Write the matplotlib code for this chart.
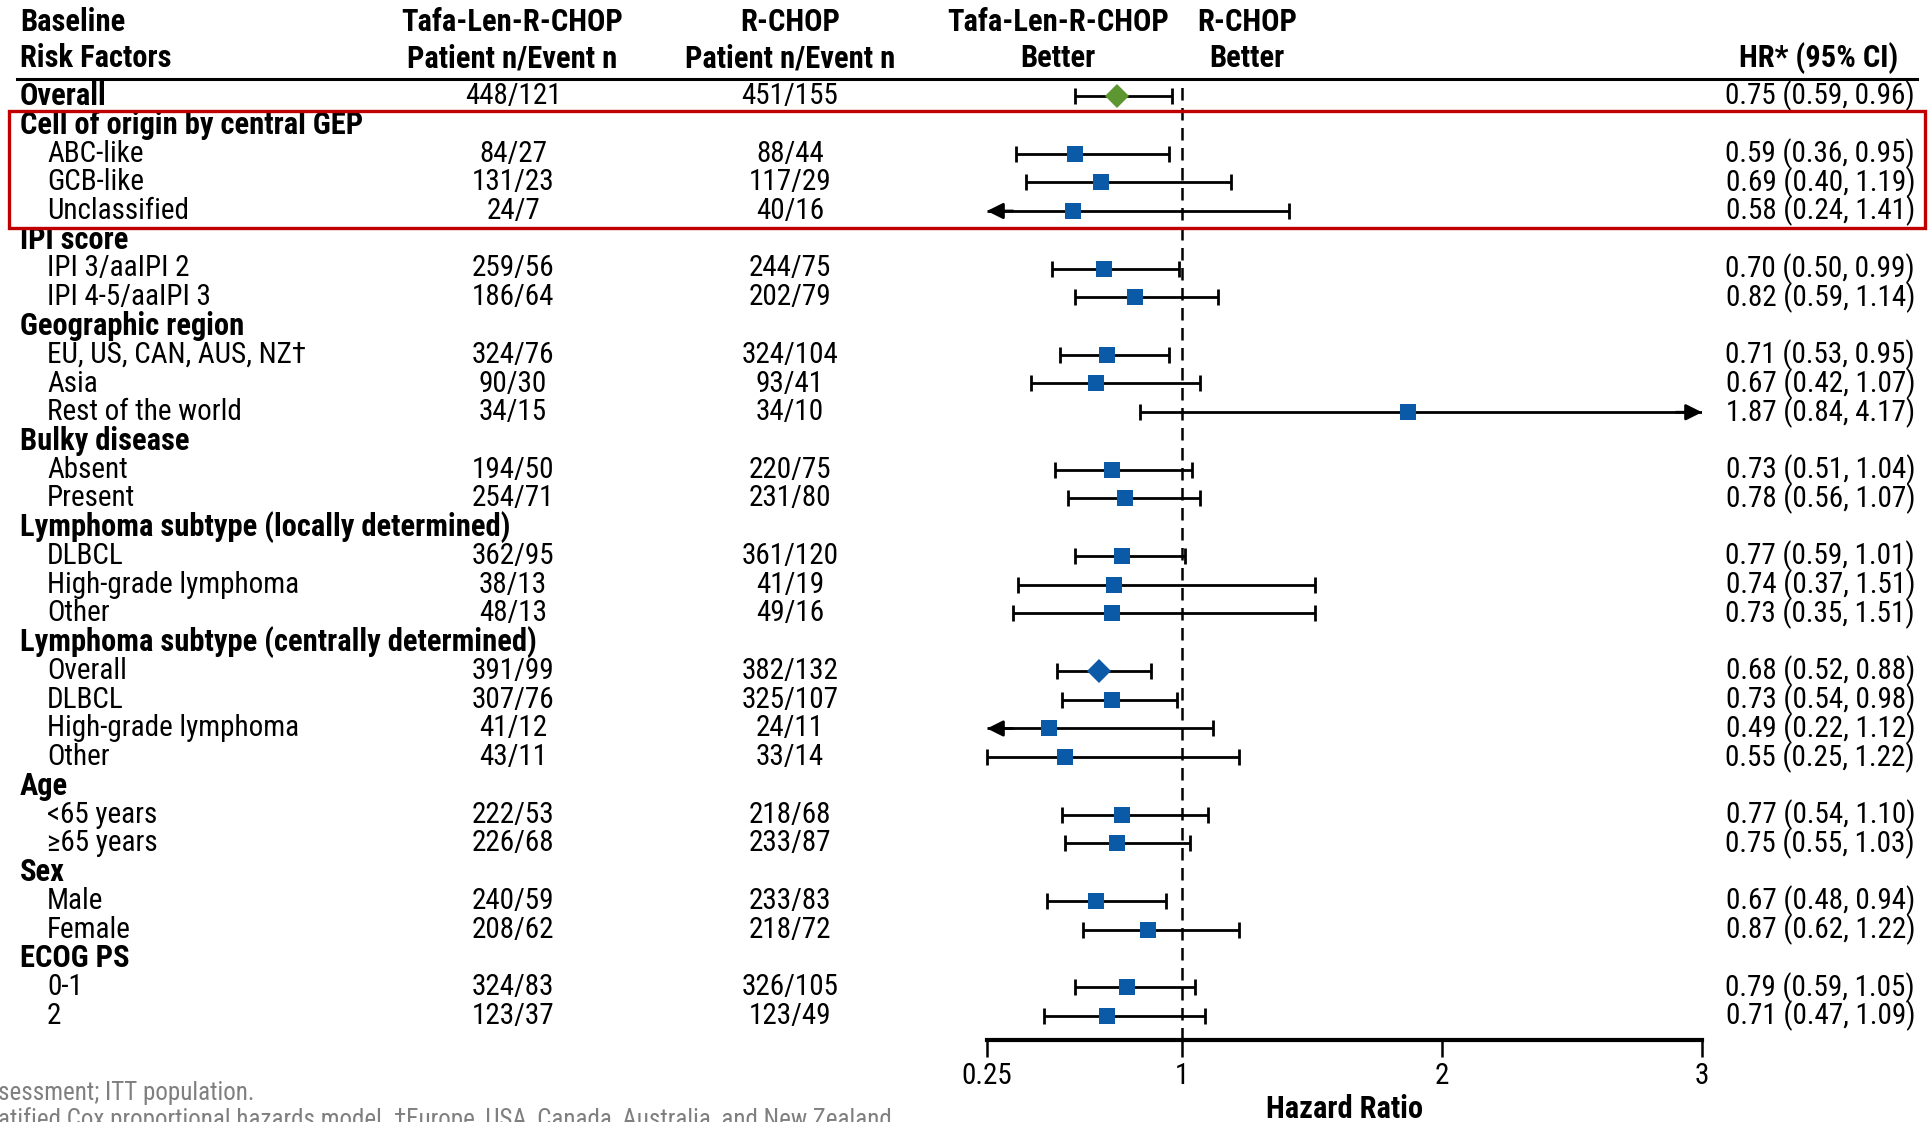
import matplotlib
matplotlib.use("Agg")
import matplotlib.pyplot as plt
from matplotlib.lines import Line2D
from matplotlib.patches import Rectangle
import matplotlib.transforms as mtransforms

plt.rcParams['font.family'] = ['Roboto Condensed', 'Archivo Narrow', 'DejaVu Sans']

# rows of the forest plot (top to bottom)
labels = ["Overall", "Cell of origin by central GEP", "ABC-like", "GCB-like", "Unclassified",
          "IPI score", "IPI 3/aaIPI 2", "IPI 4-5/aaIPI 3",
          "Geographic region", "EU, US, CAN, AUS, NZ\u2020", "Asia", "Rest of the world",
          "Bulky disease", "Absent", "Present",
          "Lymphoma subtype (locally determined)", "DLBCL", "High-grade lymphoma", "Other",
          "Lymphoma subtype (centrally determined)", "Overall", "DLBCL", "High-grade lymphoma", "Other",
          "Age", "<65 years", "\u226565 years",
          "Sex", "Male", "Female",
          "ECOG PS", "0-1", "2"]
is_group = [1, 1, 0, 0, 0, 1, 0, 0, 1, 0, 0, 0, 1, 0, 0, 1, 0, 0, 0, 1, 0, 0, 0, 0,
            1, 0, 0, 1, 0, 0, 1, 0, 0]
tafa = ["448/121", "", "84/27", "131/23", "24/7", "", "259/56", "186/64",
        "", "324/76", "90/30", "34/15", "", "194/50", "254/71",
        "", "362/95", "38/13", "48/13", "", "391/99", "307/76", "41/12", "43/11",
        "", "222/53", "226/68", "", "240/59", "208/62", "", "324/83", "123/37"]
rchop = ["451/155", "", "88/44", "117/29", "40/16", "", "244/75", "202/79",
         "", "324/104", "93/41", "34/10", "", "220/75", "231/80",
         "", "361/120", "41/19", "49/16", "", "382/132", "325/107", "24/11", "33/14",
         "", "218/68", "233/87", "", "233/83", "218/72", "", "326/105", "123/49"]
hr = [0.75, None, 0.59, 0.69, 0.58, None, 0.70, 0.82, None, 0.71, 0.67, 1.87,
      None, 0.73, 0.78, None, 0.77, 0.74, 0.73, None, 0.68, 0.73, 0.49, 0.55,
      None, 0.77, 0.75, None, 0.67, 0.87, None, 0.79, 0.71]
lo = [0.59, None, 0.36, 0.40, 0.24, None, 0.50, 0.59, None, 0.53, 0.42, 0.84,
      None, 0.51, 0.56, None, 0.59, 0.37, 0.35, None, 0.52, 0.54, 0.22, 0.25,
      None, 0.54, 0.55, None, 0.48, 0.62, None, 0.59, 0.47]
hi = [0.96, None, 0.95, 1.19, 1.41, None, 0.99, 1.14, None, 0.95, 1.07, 4.17,
      None, 1.04, 1.07, None, 1.01, 1.51, 1.51, None, 0.88, 0.98, 1.12, 1.22,
      None, 1.10, 1.03, None, 0.94, 1.22, None, 1.05, 1.09]
diamond_rows = {0: "#5E9732", 20: "#0B5AA8"}

xticks = [0.25, 1, 2, 3]
xmin, xmax = 0.25, 3

W, H = 1929, 1122
fig = plt.figure(figsize=(W / 100, H / 100), dpi=100)

def fx(px):
    return px / W

def fy(py):
    return 1 - py / H

# layout in pixels
row0, step = 96, 28.75
axis_y, head_y = 1040, 79
ax_left, ax_right = 987, 1702
ylim_bot = (axis_y - row0) / step
ylim_top = (head_y - row0) / step

ax = fig.add_axes([fx(ax_left), fy(axis_y), fx(ax_right) - fx(ax_left), fy(head_y) - fy(axis_y)])
ax.set_xlim(xmin, xmax)
ax.set_ylim(ylim_bot, ylim_top)
ax.patch.set_alpha(0)
for s in ["top", "left", "right"]:
    ax.spines[s].set_visible(False)
ax.spines["bottom"].set_linewidth(3)
ax.set_yticks([])
ax.set_xticks(xticks)
ax.set_xticklabels(["0.25", "1", "2", "3"])
ax.tick_params(axis="x", direction="out", length=12, width=1.8, labelsize=21, pad=4)
ax.set_xlabel("Hazard Ratio", fontsize=22, fontweight="bold", labelpad=3)

# reference line at HR = 1
ax.axvline(1, color="black", lw=1.8, ls=(0, (5, 3)), zorder=1)

fs = 21
fs_b = 22
cap = 11
for i, h in enumerate(hr):
    if h is None:
        continue
    left = max(lo[i], xmin)
    right = min(hi[i], xmax)
    ax.plot([left, right], [i, i], color="black", lw=2, zorder=2, solid_capstyle="butt")
    if lo[i] < xmin:
        ax.annotate("", xy=(xmin, i), xytext=(xmin + 0.1, i),
                    arrowprops=dict(arrowstyle="-|>", mutation_scale=24, lw=2, color="black",
                                    shrinkA=0, shrinkB=0), annotation_clip=False)
    else:
        ax.plot([left], [i], marker="|", ms=cap, mew=2, color="black", clip_on=False)
    if hi[i] > xmax:
        ax.annotate("", xy=(xmax, i), xytext=(xmax - 0.1, i),
                    arrowprops=dict(arrowstyle="-|>", mutation_scale=24, lw=2, color="black",
                                    shrinkA=0, shrinkB=0), annotation_clip=False)
    else:
        ax.plot([right], [i], marker="|", ms=cap, mew=2, color="black", clip_on=False)
    if i in diamond_rows:
        ax.plot([h], [i], marker="D", ms=12, color=diamond_rows[i], mew=0, zorder=3)
    else:
        ax.plot([h], [i], marker="s", ms=11, color="#0B5AA8", mew=0, zorder=3)

# text columns, x in figure pixels, y in row units
tr = mtransforms.blended_transform_factory(fig.transFigure, ax.transData)
for i, lab in enumerate(labels):
    if is_group[i]:
        ax.text(fx(20), i, lab, transform=tr, ha="left", va="center", fontsize=fs_b,
                fontweight="bold")
    else:
        ax.text(fx(47), i, lab, transform=tr, ha="left", va="center", fontsize=fs)
    if tafa[i]:
        ax.text(fx(513), i, tafa[i], transform=tr, ha="center", va="center", fontsize=fs)
        ax.text(fx(790), i, rchop[i], transform=tr, ha="center", va="center", fontsize=fs)
    if hr[i] is not None:
        ax.text(fx(1915), i, f"{hr[i]:.2f} ({lo[i]:.2f}, {hi[i]:.2f})", transform=tr,
                ha="right", va="center", fontsize=fs)

# column headers
hdr = dict(fontsize=fs_b, fontweight="bold", va="center")
fig.text(fx(20), fy(22), "Baseline", ha="left", **hdr)
fig.text(fx(20), fy(58), "Risk Factors", ha="left", **hdr)
fig.text(fx(512), fy(22), "Tafa-Len-R-CHOP", ha="center", **hdr)
fig.text(fx(512), fy(58), "Patient n/Event n", ha="center", **hdr)
fig.text(fx(790), fy(22), "R-CHOP", ha="center", **hdr)
fig.text(fx(790), fy(58), "Patient n/Event n", ha="center", **hdr)
fig.text(fx(1058), fy(22), "Tafa-Len-R-CHOP", ha="center", **hdr)
fig.text(fx(1058), fy(58), "Better", ha="center", **hdr)
fig.text(fx(1247), fy(22), "R-CHOP", ha="center", **hdr)
fig.text(fx(1247), fy(58), "Better", ha="center", **hdr)
fig.text(fx(1898), fy(58), "HR* (95% CI)", ha="right", **hdr)

fig.add_artist(Line2D([fx(17), fx(1917)], [fy(79), fy(79)], color="black", lw=2.2))

# highlight box around cell of origin rows
fig.add_artist(Rectangle((fx(9), fy(228)), fx(1925) - fx(9), fy(111) - fy(228),
                         fill=False, edgecolor="#C00000", lw=2.4))

# footnotes
fig.text(fx(-2), fy(1093), "sessment; ITT population.", ha="left", va="center",
         fontsize=18, color="#7F7F7F")
fig.text(fx(-2), fy(1120), "atified Cox proportional hazards model. \u2020Europe, USA, Canada, Australia, and New Zealand",
         ha="left", va="center", fontsize=18, color="#7F7F7F")

fig.savefig("out.png", dpi=100)
